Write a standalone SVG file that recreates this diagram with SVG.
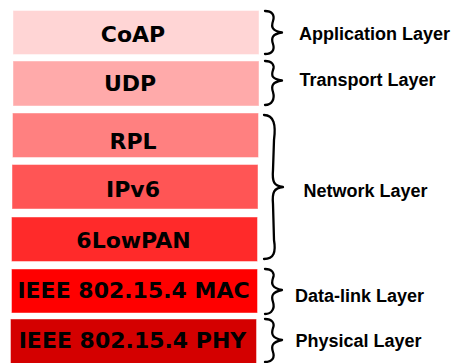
<svg xmlns="http://www.w3.org/2000/svg" width="453" height="363" viewBox="0 0 453 363">
<style>
.box{stroke:#ffffff;stroke-opacity:0.45;stroke-width:1}
.bt{font-family:"DejaVu Sans",sans-serif;font-weight:bold;font-size:22px;fill:#000;text-anchor:middle}
.lt{font-family:"Liberation Sans",Arial,sans-serif;font-weight:bold;font-size:18px;fill:#000}
.brace{fill:none;stroke:#000;stroke-width:2.3;stroke-linecap:round;stroke-linejoin:round}
</style>
<rect width="453" height="363" fill="#ffffff"/>
<g id="coap"><rect class="box" x="13" y="10.5" width="246" height="44" fill="#ffd5d5"/><text class="bt" x="133" y="41.5">CoAP</text></g>
<g id="udp"><rect class="box" x="13" y="61" width="246" height="45" fill="#ffaaaa"/><text class="bt" x="130" y="90.5">UDP</text></g>
<g id="rpl"><rect class="box" x="12.5" y="113" width="246" height="44.5" fill="#ff8080"/><text class="bt" x="133" y="149">RPL</text></g>
<g id="ipv6"><rect class="box" x="12" y="164.5" width="246" height="44.5" fill="#ff5555"/><text class="bt" x="133" y="197">IPv6</text></g>
<g id="sixlowpan"><rect class="box" x="11.5" y="217" width="246" height="44.5" fill="#ff2a2a"/><text class="bt" x="133.5" y="248">6LowPAN</text></g>
<g id="mac"><rect class="box" x="11.5" y="269" width="246" height="44" fill="#ff0000"/><text class="bt" x="133.5" y="298">IEEE 802.15.4 MAC</text></g>
<g id="phy"><rect class="box" x="10.5" y="319" width="246" height="46" fill="#d40000"/><text class="bt" x="132.5" y="348">IEEE 802.15.4 PHY</text></g>
<g id="connectors">
<path class="brace" d="M265,11 C272,11 275,15 273,21 C271,27 272,31 282,32.5 C272,34 271,38 273,44 C275,50 272,54 265,54"/>
<path class="brace" d="M265,61 C272,61 275,65 273,70 C271,76 272,79 282,80.5 C272,82 271,86 273,92 C275,99 272,105 265,105"/>
<path class="brace" d="M264,115 C274,115 276,125 274,140 L273,170 C272,182 274,186 283,187 C274,188 272,192 273,204 L274,240 C276,252 274,259 264,259"/>
<path class="brace" d="M265,269 C272,269 275,273 273,278 C271,284 272,288 282,290 C272,292 271,296 273,302 C275,308 272,314 265,314"/>
<path class="brace" d="M265,319 C272,319 275,323 273,328 C271,334 272,338 282,340 C272,342 271,346 273,352 C275,358 272,362 265,362"/>
</g>
<g id="labels">
<text class="lt" x="299" y="39.5">Application Layer</text>
<text class="lt" x="299.5" y="86">Transport Layer</text>
<text class="lt" x="303.5" y="196.5">Network Layer</text>
<text class="lt" x="295" y="301.5">Data-link Layer</text>
<text class="lt" x="295.5" y="346.5">Physical Layer</text>
</g>
</svg>
